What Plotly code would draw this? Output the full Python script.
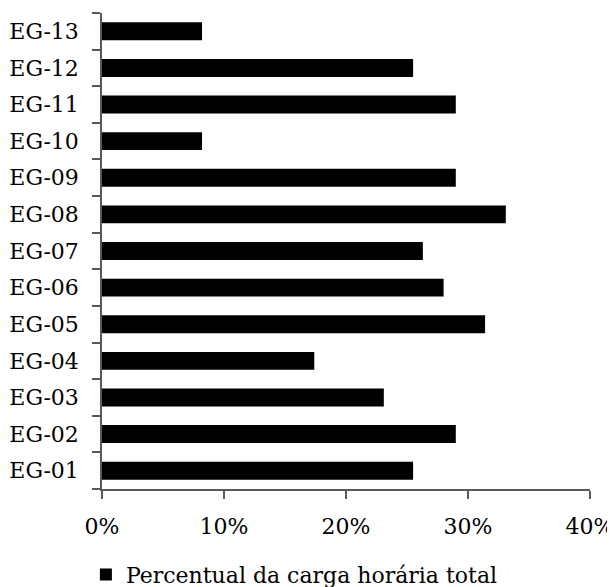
import plotly.graph_objects as go

categories = ["EG-01", "EG-02", "EG-03", "EG-04", "EG-05", "EG-06", "EG-07",
              "EG-08", "EG-09", "EG-10", "EG-11", "EG-12", "EG-13"]
values = [25.5, 29.0, 23.1, 17.4, 31.4, 28.0, 26.3, 33.1, 29.0, 8.2, 29.0, 25.5, 8.2]
series_name = "Percentual da carga horária total"
x_ticks = [0, 10, 20, 30, 40]
x_tick_labels = ["0%", "10%", "20%", "30%", "40%"]

font_family = "DejaVu Serif"
axis_color = "#595959"

fig = go.Figure()
fig.add_trace(go.Bar(
    x=values,
    y=categories,
    orientation="h",
    name=series_name,
    marker=dict(color="#000000", line=dict(width=0)),
    showlegend=True,
))

# the page body adds an 8px offset; figure sized so it fits the 615x587 window
fig.update_layout(
    width=607,
    height=579,
    margin=dict(l=94, r=25, t=5, b=98, pad=0, autoexpand=False),
    paper_bgcolor="white",
    plot_bgcolor="white",
    font=dict(family=font_family, size=22, color="#000000"),
    bargap=0.51,
    showlegend=True,
    legend=dict(
        orientation="h",
        x=-0.033,
        xanchor="left",
        y=-0.18,
        yanchor="middle",
        font=dict(family=font_family, size=22, color="#000000"),
        bgcolor="rgba(0,0,0,0)",
    ),
)

fig.update_xaxes(
    range=[0, 40],
    tickmode="array",
    tickvals=x_ticks,
    ticktext=x_tick_labels,
    showgrid=False,
    zeroline=False,
    showline=True,
    linecolor=axis_color,
    linewidth=1.5,
    ticks="outside",
    ticklen=8,
    tickwidth=1.5,
    tickcolor=axis_color,
    ticklabelstandoff=9,
    automargin=False,
)

fig.update_yaxes(
    type="category",
    categoryorder="array",
    categoryarray=categories,
    showgrid=False,
    zeroline=False,
    showline=True,
    linecolor=axis_color,
    linewidth=1.5,
    ticks="outside",
    tickson="boundaries",
    ticklen=8,
    tickwidth=1.5,
    tickcolor=axis_color,
    ticklabelstandoff=17,
    automargin=False,
)

fig.write_html("out.html")
